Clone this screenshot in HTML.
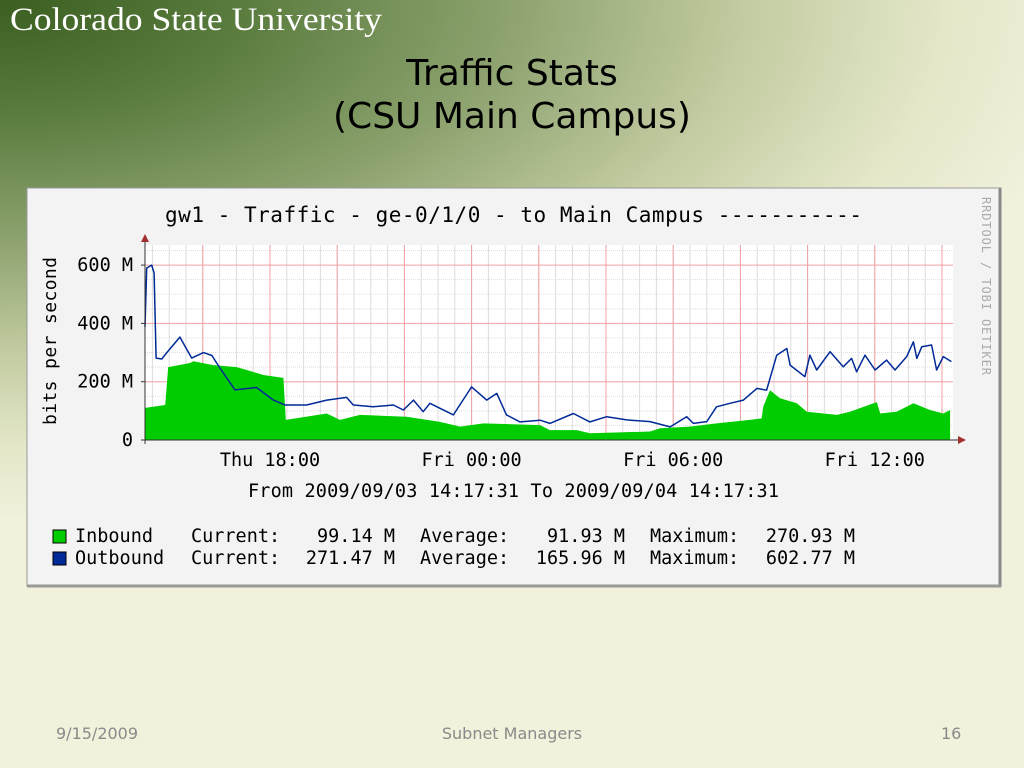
<!DOCTYPE html>
<html><head><meta charset="utf-8"><style>
html,body{margin:0;padding:0;}
body{width:1024px;height:768px;position:relative;overflow:hidden;background:#f1f1dc;font-family:"DejaVu Sans","Liberation Sans",sans-serif;}
#bg{position:absolute;left:0;top:0;width:1024px;height:768px;background:radial-gradient(ellipse 1100px 520px at 0px 0px,#3a5f20 0%,#5a7c3e 22%,#8aa06c 45%,#c3cca2 68%,#e4e7c8 86%,rgba(241,241,220,0) 100%);}
.t{position:absolute;white-space:nowrap;}
</style></head><body>
<div id="bg"></div>
<svg style="position:absolute;left:0;top:0" width="400" height="50">
<text x="10" y="30" font-family="Liberation Serif,serif" font-size="33" fill="#fff" textLength="372" lengthAdjust="spacingAndGlyphs">Colorado State University</text>
</svg>
<div class="t" style="left:0;width:1024px;top:52px;text-align:center;font-size:36px;line-height:43px;color:#000;">Traffic Stats<br>(CSU Main Campus)</div>

<svg style="position:absolute;left:0;top:0" width="1024" height="768">
<rect x="27" y="188" width="974" height="398" fill="#f3f3f3" stroke="#999"/>
<line x1="1000" y1="188" x2="1000" y2="587" stroke="#888" stroke-width="3"/>
<line x1="27" y1="586" x2="1001" y2="586" stroke="#999" stroke-width="3"/>
<text x="165" y="222" font-family="DejaVu Sans Mono,monospace" font-size="21" fill="#000" textLength="697">gw1 - Traffic - ge-0/1/0 - to Main Campus  -----------</text>
<text transform="translate(982,197) rotate(90)" font-family="DejaVu Sans Mono,monospace" font-size="12" fill="#aaa" textLength="178">RRDTOOL / TOBI OETIKER</text>
<text transform="translate(56,425) rotate(-90)" font-family="DejaVu Sans Mono,monospace" font-size="18" fill="#000" textLength="168">bits per second</text>
<rect x="145" y="245" width="808" height="195" fill="#fff"/>
<g id="grid"></g>
<g id="marks"></g>
<g id="axes"></g>
<text x="248" y="497" font-family="DejaVu Sans Mono,monospace" font-size="18.5" fill="#000" textLength="531">From 2009/09/03 14:17:31 To 2009/09/04 14:17:31</text>
<g font-family="DejaVu Sans Mono,monospace" font-size="18.5" fill="#000">
<rect x="53" y="530" width="13" height="13" fill="#00cc00" stroke="#000"/>
<text x="75" y="542">Inbound</text>
<text x="191" y="542">Current:</text><text x="395" y="542" text-anchor="end">99.14 M</text>
<text x="420" y="542">Average:</text><text x="625" y="542" text-anchor="end">91.93 M</text>
<text x="650" y="542">Maximum:</text><text x="855" y="542" text-anchor="end">270.93 M</text>
<rect x="53" y="552" width="13" height="13" fill="#002a97" stroke="#000"/>
<text x="75" y="564">Outbound</text>
<text x="191" y="564">Current:</text><text x="395" y="564" text-anchor="end">271.47 M</text>
<text x="420" y="564">Average:</text><text x="625" y="564" text-anchor="end">165.96 M</text>
<text x="650" y="564">Maximum:</text><text x="855" y="564" text-anchor="end">602.77 M</text>
</g>
</svg>

<div class="t" style="left:56px;top:724px;font-size:16px;color:#8a8a8a;">9/15/2009</div>
<div class="t" style="left:0;width:1024px;text-align:center;top:724px;font-size:16px;color:#8a8a8a;">Subnet Managers</div>
<div class="t" style="left:941px;top:724px;font-size:16px;color:#8a8a8a;">16</div>

<script>
const outHours=[0,0.05,0.2,0.27,0.33,0.5,0.65,1.04,1.39,1.74,1.99,2.23,2.68,3.32,3.82,4.17,4.81,5.41,6.0,6.2,6.79,7.39,7.69,7.99,8.28,8.48,9.18,9.72,10.17,10.47,10.76,11.16,11.76,12.05,12.75,13.24,13.74,14.34,15.03,15.63,16.12,16.32,16.72,17.01,17.41,17.81,18.21,18.5,18.8,19.1,19.2,19.64,19.79,19.99,20.39,20.78,21.03,21.18,21.43,21.73,22.07,22.32,22.67,22.87,22.97,23.12,23.41,23.56,23.76,24.0];
const outValues=[388,590,600,573,281,278,300,353,281,300,290,247,172,180,137,120,120,137,146,120,114,120,103,137,97,126,86,182,137,160,86,62,68,57,91,62,80,69,63,45,80,57,63,114,126,137,177,171,291,314,257,217,291,240,303,251,280,234,291,240,274,240,286,337,280,320,326,240,286,269];
const inHours=[0,0.6,0.69,1.34,1.44,2.03,2.73,3.03,3.52,4.12,4.19,5.41,5.8,6.4,7.79,8.78,9.38,10.07,11.76,12.05,12.85,13.24,15.03,15.33,16.22,17.01,18.0,18.35,18.4,18.6,18.9,19.4,19.7,20.59,20.98,21.78,21.88,22.37,22.87,23.36,23.76,23.96];
const inValues=[110,120,250,264,270,257,250,240,223,213,69,91,69,86,80,62,46,57,51,34,34,23,29,40,46,57,69,74,114,171,143,126,97,86,97,130,91,97,126,103,91,103];
const yTicks=[0,200,400,600];
const yTickLabels=["0","200 M","400 M","600 M"];
const xTickHours=[3.72,9.72,15.72,21.72];
const xTickLabels=["Thu 18:00","Fri 00:00","Fri 06:00","Fri 12:00"];

const NS="http://www.w3.org/2000/svg";
const X0=145,Y0=440;
function xs(h){return X0+h*33.6;}
function ys(v){return Y0-v*(58.3/200);}
function mk(tag,attrs,parent){const e=document.createElementNS(NS,tag);for(const k in attrs)e.setAttribute(k,attrs[k]);parent.appendChild(e);return e;}
const grid=document.getElementById('grid'),marks=document.getElementById('marks'),axes=document.getElementById('axes');
for(let v=50;v<=650;v+=50){if(v%200===0)continue;mk('line',{x1:X0,x2:953,y1:ys(v),y2:ys(v),stroke:'#ddd','stroke-width':1,'stroke-dasharray':'1,1'},grid);}
for(let h=xTickHours[0]-3.5;h<=24;h+=0.5){if(h<0.2)continue;mk('line',{x1:xs(h),x2:xs(h),y1:245,y2:Y0,stroke:'#ddd','stroke-width':1},grid);}
for(let v=200;v<=600;v+=200){mk('line',{x1:X0,x2:953,y1:ys(v),y2:ys(v),stroke:'#f2a0a0','stroke-width':1},grid);}
for(let h=xTickHours[0]-2;h<=24;h+=2){if(h<0.2)continue;mk('line',{x1:xs(h),x2:xs(h),y1:245,y2:Y0,stroke:'#f2a0a0','stroke-width':1},grid);}
let d='M'+xs(inHours[0])+','+Y0;
for(let i=0;i<inHours.length;i++)d+=' L'+xs(inHours[i]).toFixed(1)+','+ys(inValues[i]).toFixed(1);
d+=' L'+xs(inHours[inHours.length-1]).toFixed(1)+','+Y0+' Z';
const area=mk('path',{d:d,fill:'#00cc00'},marks);


let p='';
for(let i=0;i<outHours.length;i++)p+=(i?' L':'M')+xs(outHours[i]).toFixed(1)+','+ys(outValues[i]).toFixed(1);
const line=mk('path',{d:p,fill:'none',stroke:'#002a97','stroke-width':1.5,'stroke-linejoin':'round'},marks);


mk('line',{x1:X0,x2:958,y1:Y0,y2:Y0,stroke:'#333','stroke-width':1},axes);
mk('path',{d:'M958,436 L966,440 L958,444 Z',fill:'#a03030'},axes);
mk('line',{x1:X0,x2:X0,y1:Y0+4,y2:242,stroke:'#333','stroke-width':1},axes);
mk('path',{d:'M141,242 L145,234 L149,242 Z',fill:'#a03030'},axes);
for(let i=0;i<yTicks.length;i++){
  const y=ys(yTicks[i]);
  mk('line',{x1:X0-4,x2:X0,y1:y,y2:y,stroke:'#333'},axes);
  const t=mk('text',{x:X0-12,y:y+6,'text-anchor':'end','font-family':'DejaVu Sans Mono,monospace','font-size':18.5,fill:'#000'},axes);
  t.textContent=yTickLabels[i];
  
  
}
for(let i=0;i<xTickHours.length;i++){
  const x=xs(xTickHours[i]);
  const t=mk('text',{x:x,y:466,'text-anchor':'middle','font-family':'DejaVu Sans Mono,monospace','font-size':18.5,fill:'#000'},axes);
  t.textContent=xTickLabels[i];
  
  
}
</script>
</body></html>
